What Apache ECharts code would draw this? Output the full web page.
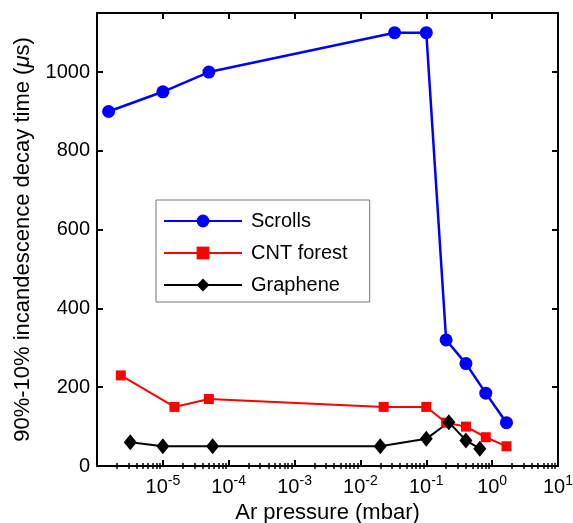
<!DOCTYPE html>
<html>
<head>
<meta charset="utf-8">
<script src="https://cdn.jsdelivr.net/npm/echarts@6/dist/echarts.min.js"></script>
<style>
  html, body { margin: 0; padding: 0; background: #fff; }
  #chart { width: 573px; height: 523px; }
</style>
</head>
<body>
<div id="chart"></div>
<script>
// values
const scrollsX = [1.5e-6, 1e-5, 5e-5, 0.033, 0.1, 0.2, 0.4, 0.8, 1.65];
const scrollsY = [900, 950, 1000, 1100, 1100, 320, 260, 185, 110];
const cntX = [2.3e-6, 1.5e-5, 5e-5, 0.0225, 0.1, 0.2, 0.4, 0.8, 1.65];
const cntY = [230, 150, 170, 150, 150, 110, 100, 73, 50];
const grapheneX = [3.2e-6, 1e-5, 5.7e-5, 0.02, 0.1, 0.22, 0.4, 0.65];
const grapheneY = [60, 50, 50, 50, 69, 111, 65, 44];

const xExponents = [-5, -4, -3, -2, -1, 0, 1]; // labelled decades
const yTicks = [0, 200, 400, 600, 800, 1000];

const FONT = 'Liberation Sans, Arial, sans-serif';

function pairs(xs, ys) {
    return xs.map((x, i) => [x, ys[i]]);
}

// minor ticks 2..9 of every decade, in log10 space
const minorTicks = [];
for (let d = -6; d < 1; d++) {
    for (let k = 2; k <= 9; k++) minorTicks.push(d + Math.log10(k));
}

const chart = echarts.init(document.getElementById('chart'));

const logAxis = function (pos, showLabel) {
    return {
        type: 'log',
        logBase: 10,
        min: 1e-6,
        max: 10,
        position: pos,
        axisLine: { show: true, onZero: false, lineStyle: { color: '#000', width: 2 } },
        axisTick: { show: true, inside: true, length: 6, lineStyle: { color: '#000', width: 2 } },
        splitLine: { show: false },
        axisLabel: {
            show: showLabel,
            margin: 8,
            fontFamily: FONT,
            formatter: function (v) {
                const e = Math.round(Math.log10(v));
                if (xExponents.indexOf(e) < 0) return '';
                return '{b|10}{s|' + e + '}';
            },
            rich: {
                b: { fontSize: 20, fontFamily: FONT, color: '#000', verticalAlign: 'bottom' },
                s: { fontSize: 14, fontFamily: FONT, color: '#000', verticalAlign: 'bottom', padding: [0, 0, 9, 0] }
            }
        }
    };
};

const minorAxis = function (pos) {
    return {
        type: 'value',
        min: -6,
        max: 1,
        position: pos,
        axisLine: { show: false },
        axisLabel: { show: false },
        splitLine: { show: false },
        axisTick: {
            show: true,
            inside: true,
            length: 3,
            customValues: minorTicks,
            lineStyle: { color: '#000', width: 1.5 }
        }
    };
};

const valAxis = function (pos, showLabel) {
    return {
        type: 'value',
        min: 0,
        max: 1150,
        interval: 200,
        position: pos,
        axisLine: { show: true, onZero: false, lineStyle: { color: '#000', width: 2 } },
        axisTick: { show: true, inside: true, length: 6, lineStyle: { color: '#000', width: 2 } },
        splitLine: { show: false },
        axisLabel: {
            show: showLabel,
            showMaxLabel: false,
            margin: 7,
            fontSize: 20,
            fontFamily: FONT,
            color: '#000',
            formatter: function (v) { return yTicks.indexOf(v) >= 0 ? String(v) : ''; }
        }
    };
};

const xBottom = logAxis('bottom', true);
xBottom.name = 'Ar pressure (mbar)';
xBottom.nameLocation = 'middle';
xBottom.nameGap = 33;
xBottom.nameTextStyle = { fontSize: 22, fontFamily: FONT, color: '#000' };

const yLeft = valAxis('left', true);
yLeft.name = '90%-10% incandescence decay time ({i|\u03bc}s)';
yLeft.nameLocation = 'middle';
yLeft.nameGap = 63;
yLeft.nameTextStyle = {
    fontSize: 22, fontFamily: FONT, color: '#000',
    rich: { i: { fontSize: 22, fontFamily: FONT, fontStyle: 'italic', color: '#000' } }
};

const optionData = {
    animation: false,
    backgroundColor: '#fff',
    grid: { left: 97, top: 13, right: 15, bottom: 57, containLabel: false, outerBoundsMode: 'none' },
    xAxis: [xBottom, logAxis('top', false), minorAxis('bottom'), minorAxis('top')],
    yAxis: [yLeft, valAxis('right', false)],
    legend: {
        orient: 'vertical',
        left: 156,
        top: 200,
        padding: [11, 22, 7, 7],
        itemWidth: 78,
        itemHeight: 16,
        itemGap: 12,
        borderColor: '#777',
        borderWidth: 1,
        textStyle: { fontSize: 20, fontFamily: FONT, color: '#000', padding: [0, 0, 0, 4] },
        data: ['Scrolls', 'CNT forest', 'Graphene']
    },
    series: [
        {
            name: 'Scrolls',
            type: 'line',
            data: pairs(scrollsX, scrollsY),
            symbol: 'circle',
            symbolSize: 13,
            color: '#0000ff',
            lineStyle: { width: 2.5, color: '#0000ff' },
            itemStyle: { color: '#0000ff' }
        },
        {
            name: 'CNT forest',
            type: 'line',
            data: pairs(cntX, cntY),
            symbol: 'rect',
            symbolSize: 10,
            color: '#ff0000',
            lineStyle: { width: 2, color: '#ff0000' },
            itemStyle: { color: '#ff0000' }
        },
        {
            name: 'Graphene',
            type: 'line',
            data: pairs(grapheneX, grapheneY),
            symbol: 'diamond',
            symbolSize: [13, 16],
            color: '#000',
            lineStyle: { width: 2, color: '#000' },
            itemStyle: { color: '#000' }
        }
    ]
};
chart.setOption(optionData);
</script>
</body>
</html>
